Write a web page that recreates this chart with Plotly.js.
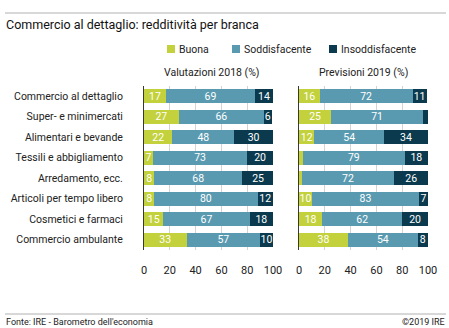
<!DOCTYPE html>
<html><head><meta charset="utf-8">
<script src="https://cdn.plot.ly/plotly-3.0.1.min.js"></script>
<style>body{margin:0;background:#fff}#c{width:449px;height:328px}</style>
</head><body><div id="c"></div>
<script>
const categories = ["Commercio al dettaglio","Super- e minimercati","Alimentari e bevande","Tessili e abbigliamento","Arredamento, ecc.","Articoli per tempo libero","Cosmetici e farmaci","Commercio ambulante"];
const seriesNames = ["Buona","Soddisfacente","Insoddisfacente"];
const colors = ["#c3d13c","#5a9ab0","#0b3a4e"];
// Valutazioni 2018 (%)
const buona2018 = [17,27,22,7,8,8,15,33];
const sodd2018 = [69,66,48,73,68,80,67,57];
const insodd2018 = [14,6,30,20,25,12,18,10];
// Previsioni 2019 (%)
const buona2019 = [16,25,12,3,2,10,18,38];
const sodd2019 = [72,71,54,79,72,83,62,54];
const insodd2019 = [11,4,34,18,26,7,20,8];
const xTicks = [0,20,40,60,80,100];
const panelTitles = ["Valutazioni 2018 (%)","Previsioni 2019 (%)"];

const FONT = "Roboto, 'Open Sans', sans-serif";
const lbl = arr => arr.map(v => v >= 5 ? String(v) : "");
const traces = [];
[[buona2018,sodd2018,insodd2018],[buona2019,sodd2019,insodd2019]].forEach((set,p)=>{
  set.forEach((vals,i)=>{
    traces.push({
      type:"bar", orientation:"h", x:vals, y:categories, name:seriesNames[i],
      xaxis: p===0 ? "x" : "x2", yaxis: p===0 ? "y" : "y2",
      marker:{color:colors[i], line:{width:0}},
      text: lbl(vals), textposition:"inside", insidetextanchor:"middle", textangle:0,
      textfont:{color:"#ffffff", size:10.5, family:FONT},
      constraintext:"none",
      showlegend:false, hoverinfo:"skip", width:0.68
    });
  });
});

const xax = (dom, anchor) => ({
  domain:dom, range:[0,100], tickvals:xTicks, ticks:"", showgrid:true, gridcolor:"#d4d4d4", gridwidth:1,
  zeroline:false, showline:false, fixedrange:true, anchor:anchor,
  tickfont:{size:11, color:"#222", family:FONT}, ticklabelstandoff:12
});
const yax = (show, anchor) => ({
  anchor:anchor, showticklabels:show, ticks:"", showgrid:false,
  showline:true, linecolor:"#3a3a2a", linewidth:1, zeroline:false,
  tickfont:{size:10.5, color:"#222", family:FONT}, ticklabelstandoff:18, range:[7.5,-0.5]
});

// legend drawn in pixel positions converted to paper coords
const px = x => (x-144)/284, py = y => (250-y)/164;
const legX = [167, 232, 329];
const shapes = [
  {type:"line", xref:"paper", yref:"paper", x0:px(5), x1:px(446), y0:py(13), y1:py(13), line:{color:"#b0b0b0", width:1}},
  {type:"line", xref:"paper", yref:"paper", x0:px(5), x1:px(446), y0:py(314), y1:py(314), line:{color:"#b0b0b0", width:1}}
];
const annotations = [
  {xref:"paper", yref:"paper", x:px(4), y:py(25), xanchor:"left", yanchor:"middle", showarrow:false,
   text:"Commercio al dettaglio: redditività per branca", font:{size:12.5, color:"#111", family:FONT}},
  {xref:"paper", yref:"paper", x:px(212), y:py(73), xanchor:"center", yanchor:"middle", showarrow:false,
   text:panelTitles[0], font:{size:10.5, family:FONT, color:"#222"}},
  {xref:"paper", yref:"paper", x:px(363.5), y:py(73), xanchor:"center", yanchor:"middle", showarrow:false,
   text:panelTitles[1], font:{size:10.5, family:FONT, color:"#222"}},
  {xref:"paper", yref:"paper", x:px(4), y:py(322), xanchor:"left", yanchor:"middle", showarrow:false,
   text:"Fonte: IRE - Barometro dell'economia", font:{size:9, family:FONT, color:"#222"}},
  {xref:"paper", yref:"paper", x:px(447), y:py(322), xanchor:"right", yanchor:"middle", showarrow:false,
   text:"©2019 IRE", font:{size:9, family:FONT, color:"#222"}}
];
seriesNames.forEach((n,i)=>{
  shapes.push({type:"rect", xref:"paper", yref:"paper", x0:px(legX[i]), x1:px(legX[i]+8), y0:py(53), y1:py(45),
    fillcolor:colors[i], line:{width:0}});
  annotations.push({xref:"paper", yref:"paper", x:px(legX[i]+10), y:py(49), xanchor:"left", yanchor:"middle",
    showarrow:false, text:n, font:{size:10.5, family:FONT, color:"#222"}});
});

const layout = {
  width:449, height:328, barmode:"stack", bargap:0.32,
  paper_bgcolor:"#fff", plot_bgcolor:"#fff",
  margin:{l:144, r:21, t:86, b:78},
  font:{family:FONT, color:"#222"},
  uniformtext:{mode:"show", minsize:10.5},
  showlegend:false,
  xaxis: xax([0,0.4542],"y"),
  xaxis2: xax([0.5458,1],"y2"),
  yaxis: yax(true,"x"),
  yaxis2: yax(false,"x2"),
  annotations: annotations,
  shapes: shapes
};
Plotly.newPlot("c", traces, layout, {displayModeBar:false, staticPlot:true});
</script></body></html>
